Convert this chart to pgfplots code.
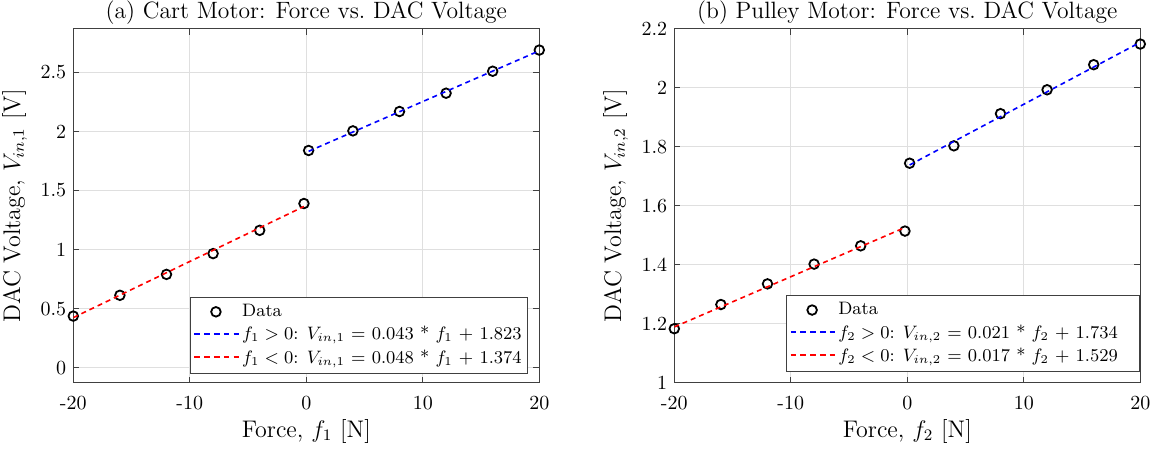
\documentclass[border=0pt]{standalone}
\usepackage{pgfplots}
\pgfplotsset{compat=1.18}
\definecolor{axgray}{gray}{0.25}
\tikzset{titlefont/.style={font=\fontsize{11.8}{14}\selectfont}}
\newcommand{\dsh}{\rule[-0.5pt]{2.8pt}{1pt}}
\newcommand{\dashsample}[1]{\textcolor{#1}{\dsh\hspace{2.1pt}\dsh\hspace{2.1pt}\dsh\hspace{2.1pt}\dsh\hspace{2.1pt}\dsh}}
\begin{document}
\begin{tikzpicture}
\useasboundingbox (-36.65pt,-34.15pt) rectangle (542.35pt,191.35pt);
\pgfplotsset{
  mystyle/.style={
    width=233pt, height=177pt, scale only axis,
    clip mode=individual,
    axis line style={axgray, line width=0.4pt},
    tick style={axgray, line width=0.4pt},
    tick align=inside, tick pos=both,
    major tick length=3pt,
    grid=major, grid style={gray!25, line width=0.4pt},
    xmin=-20, xmax=20,
    xtick={-20,-10,0,10,20},
    xticklabels={-20,-10,0,10,20},
    ticklabel style={font=\fontsize{10}{12}\selectfont},
    xticklabel style={yshift=-3pt},
    label style={font=\fontsize{12}{14}\selectfont},
    xlabel style={yshift=2pt},
    /pgf/number format/assume math mode=true,
    legend cell align=left,
    legend style={font=\fontsize{9}{11}\selectfont, draw=axgray, line width=0.4pt, fill=white,
      inner xsep=1.5pt, inner ysep=1.5pt, row sep=-0.5pt,
      nodes={inner xsep=1.5pt}},
  },
  datastyle/.style={only marks, mark=o, mark size=2.4pt, black, mark options={line width=0.9pt},
    legend image code/.code={\path (0pt,0pt) (22.4pt,0pt); \draw[#1] plot coordinates {(11.2pt,0pt)};}},
  fitblue/.style={draw=blue, color=blue, line width=0.8pt, no marks, dash pattern=on 2.5pt off 2pt,
    legend image code/.code={\node[inner sep=0pt, anchor=west] at (0pt,0pt) {\dashsample{blue}};}},
  fitred/.style={draw=red, color=red, line width=0.8pt, no marks, dash pattern=on 2.5pt off 2pt,
    legend image code/.code={\node[inner sep=0pt, anchor=west] at (0pt,0pt) {\dashsample{red}};}},
}
% (a)
\begin{axis}[mystyle, at={(0,0)}, anchor=south west,
  ymin=-0.127, ymax=2.87,
  ytick={0,0.5,1,1.5,2,2.5},
  yticklabels={0,0.5,1,1.5,2,2.5},
  xlabel={Force, $f_1$ [N]},
  ylabel={DAC Voltage, $V_{in,1}$ [V]},
  legend style={at={(0.976,0.025)}, anchor=south east},
]
\addplot[datastyle] coordinates {
(-20,0.437) (-16,0.613) (-12,0.790) (-8,0.966) (-4,1.163) (-0.2,1.390)
(0.2,1.839) (4,2.005) (8,2.169) (12,2.324) (16,2.510) (20,2.689)};
\addlegendentry{Data}
\addplot[fitblue] coordinates {(0.2,1.832) (20,2.683)};
\addlegendentry{$f_1 > 0$: $V_{in,1}$ = 0.043 * $f_1$ + 1.823}
\addplot[fitred] coordinates {(-20,0.424) (-0.2,1.365)};
\addlegendentry{$f_1 < 0$: $V_{in,1}$ = 0.048 * $f_1$ + 1.374}
\node[titlefont, anchor=base, yshift=5pt] at (rel axis cs:0.5,1) {(a) Cart Motor: Force vs.\ DAC Voltage};
\end{axis}
% (b)
\begin{axis}[mystyle, at={(300.5pt,0)}, anchor=south west,
  ymin=1, ymax=2.2,
  ytick={1,1.2,1.4,1.6,1.8,2,2.2},
  yticklabels={1,1.2,1.4,1.6,1.8,2,2.2},
  xlabel={Force, $f_2$ [N]},
  ylabel={DAC Voltage, $V_{in,2}$ [V]},
  legend style={at={(1.0,0.03)}, anchor=south east},
]
\addplot[datastyle] coordinates {
(-20,1.183) (-16,1.265) (-12,1.335) (-8,1.402) (-4,1.464) (-0.2,1.514)
(0.2,1.744) (4,1.803) (8,1.912) (12,1.993) (16,2.078) (20,2.148)};
\addlegendentry{Data}
\addplot[fitblue] coordinates {(0.2,1.738) (20,2.154)};
\addlegendentry{$f_2 > 0$: $V_{in,2}$ = 0.021 * $f_2$ + 1.734\kern8pt}
\addplot[fitred] coordinates {(-20,1.189) (-0.2,1.526)};
\addlegendentry{$f_2 < 0$: $V_{in,2}$ = 0.017 * $f_2$ + 1.529\kern8pt}
\node[titlefont, anchor=base, yshift=5pt] at (rel axis cs:0.5,1) {(b) Pulley Motor: Force vs.\ DAC Voltage};
\end{axis}
\end{tikzpicture}
\end{document}
